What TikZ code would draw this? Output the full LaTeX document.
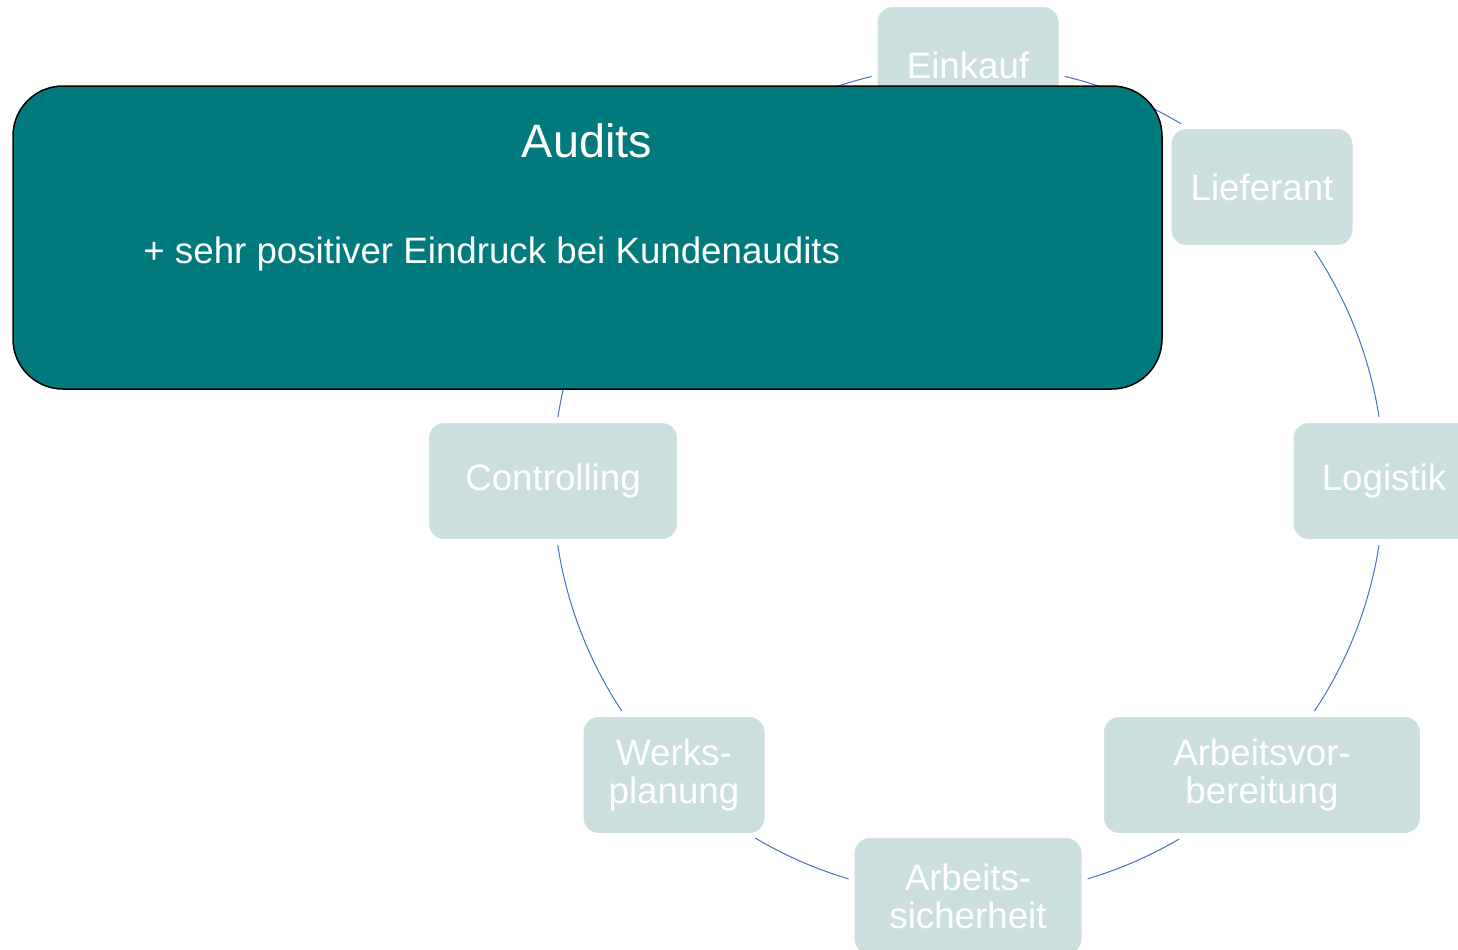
\documentclass[tikz,border=0pt]{standalone}
\usepackage{fontspec}
\setmainfont{Liberation Sans}
\usepackage{xcolor}
\usepackage{tikz}
\usetikzlibrary{positioning}
\definecolor{boxlight}{HTML}{CCDFDF}
\definecolor{tealdark}{HTML}{007A7C}
\definecolor{arcblue}{HTML}{4472C4}
% white edge keeps a small gap between the arcs and the boxes
\tikzstyle{stage} = [rectangle, rounded corners=9pt, fill=boxlight, draw=white, line width=3pt, text=white, align=center, minimum height=61pt, inner sep=0pt, font=\fontsize{18.35}{19}\selectfont]
\tikzstyle{cyclearc} = [arcblue, line width=0.5pt, bend left=22.5, looseness=0.89]

\begin{document}
\begin{tikzpicture}[x=0.5pt, y=-0.5pt]
    \clip (0, 0) rectangle (1458, 949);

    \coordinate (einkauf-pos) at (968, 65);
    \coordinate (lieferant-pos) at (1262, 187);
    \coordinate (logistik-pos) at (1384, 481);
    \coordinate (arbeitsvorbereitung-pos) at (1262, 775);
    \coordinate (arbeitssicherheit-pos) at (968, 896);
    \coordinate (werksplanung-pos) at (674, 775);
    \coordinate (controlling-pos) at (553, 481);
    \coordinate (audit-slot) at (675, 187);

    \draw[cyclearc] (einkauf-pos) to (lieferant-pos);
    \draw[cyclearc] (lieferant-pos) to (logistik-pos);
    \draw[cyclearc] (logistik-pos) to (arbeitsvorbereitung-pos);
    \draw[cyclearc] (arbeitsvorbereitung-pos) to (arbeitssicherheit-pos);
    \draw[cyclearc] (arbeitssicherheit-pos) to (werksplanung-pos);
    \draw[cyclearc] (werksplanung-pos) to (controlling-pos);
    \draw[cyclearc] (controlling-pos) to (audit-slot);
    \draw[cyclearc] (audit-slot) to (einkauf-pos);

    \node[stage, minimum width=93.5pt] (einkauf) at (einkauf-pos) {Einkauf};
    \node[stage, minimum width=93.5pt] (lieferant) at (lieferant-pos) {Lieferant};
    \node[stage, minimum width=93.5pt] (logistik) at (logistik-pos) {Logistik};
    \node[stage, minimum width=161pt] (arbeitsvorbereitung) at (arbeitsvorbereitung-pos) {Arbeitsvor-\\bereitung};
    \node[stage, minimum width=116.5pt] (arbeitssicherheit) at (arbeitssicherheit-pos) {Arbeits-\\sicherheit};
    \node[stage, minimum width=93.5pt] (werksplanung) at (werksplanung-pos) {Werks-\\planung};
    \node[stage, minimum width=127pt] (controlling) at (controlling-pos) {Controlling};

    \node[rectangle, rounded corners=25pt, draw=black, line width=0.75pt, fill=tealdark, minimum width=574.5pt, minimum height=151.5pt] (audits) at (587.5, 237.5) {};
    \node[text=white, font=\fontsize{23.4}{28}\selectfont, anchor=base] (audits-title) at (587, 157) {Audits};
    \node[text=white, font=\fontsize{18.35}{22}\selectfont, anchor=base west, inner sep=0pt] (audits-text) at (143, 263) {+ sehr positiver Eindruck bei Kundenaudits};
\end{tikzpicture}
\end{document}
